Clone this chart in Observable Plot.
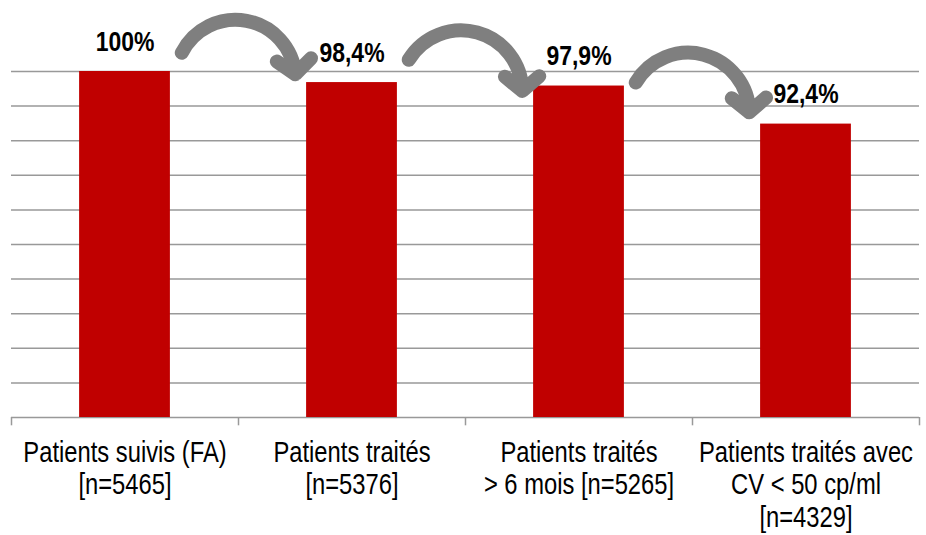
<!DOCTYPE html>
<html>
<head>
<meta charset="utf-8">
<script src="https://cdn.jsdelivr.net/npm/d3@7"></script>
<script src="https://cdn.jsdelivr.net/npm/@observablehq/plot@0.6"></script>
<style>
  html, body { margin: 0; padding: 0; background: #fff; }
  #chart svg { display: block; }
</style>
</head>
<body>
<div id="chart"></div>
<script>
// ---- data ----
const categories = [
  "Patients suivis (FA)\n[n=5465]",
  "Patients traités\n[n=5376]",
  "Patients traités\n> 6 mois [n=5265]",
  "Patients traités avec\nCV < 50 cp/ml\n[n=4329]"
];
const values = [100, 98.4, 97.9, 92.4];
const valueLabels = ["100%", "98,4%", "97,9%", "92,4%"];
const gridTicks = [50, 55, 60, 65, 70, 75, 80, 85, 90, 95, 100];
const yMin = 50;
// arrows between consecutive bars (start/end heights)
const arrowFrom = [0, 1, 2];
const arrowTo = [1, 2, 3];
const arrowY1 = [102.7, 101.7, 98.4];
const arrowY2 = [99.6, 97.2, 94.1];

const data = categories.map((c, i) => ({i, category: c, value: values[i], label: valueLabels[i]}));
const arrows = arrowFrom.map((f, k) => ({from: f, to: arrowTo[k], y1: arrowY1[k], y2: arrowY2[k]}));
const bandEdges = categories.map((_, i) => i - 0.5).concat([categories.length - 0.5]);

const font = "'Liberation Sans', Arial, sans-serif";

const chart = Plot.plot({
  width: 926,
  height: 535,
  marginLeft: 11,
  marginRight: 7,
  marginTop: 71,
  marginBottom: 118,
  style: {fontFamily: font, background: "#fff"},
  x: {type: "linear", domain: [-0.5, categories.length - 0.5], axis: null},
  y: {domain: [yMin, 100], axis: null},
  marks: [
    Plot.ruleY(gridTicks, {stroke: "#999", strokeWidth: 1.5}),
    Plot.ruleX(bandEdges, {y1: yMin, y2: yMin - 1.2, stroke: "#999", strokeWidth: 1.5}),
    Plot.rectY(data, {x1: d => d.i - 0.2, x2: d => d.i + 0.2, y1: yMin, y2: "value", fill: "#c00000"}),
    Plot.text(data, {x: "i", y: "value", text: "label", lineAnchor: "bottom", dy: -21,
      fontSize: 28, fontWeight: "bold", fill: "#000", className: "narrow"}),
    Plot.text(data, {x: "i", y: yMin, text: "category", lineAnchor: "top", dy: 21,
      fontSize: 29, lineHeight: 1.12, fill: "#000", className: "narrow"}),
    Plot.arrow(arrows, {x1: d => d.from + 0.25, x2: d => d.to - 0.25, y1: "y1", y2: "y2",
      bend: 74, stroke: "#7f7f7f", strokeWidth: 14, headLength: 2.4, headAngle: 100})
  ]
});
// Arial Narrow look: condense the text horizontally around its anchor point
chart.querySelectorAll("g.narrow text").forEach(t => {
  const tr = t.getAttribute("transform") || "";
  t.setAttribute("transform", tr + " scale(0.82,1)");
});
document.getElementById("chart").appendChild(chart);
</script>
</body>
</html>
